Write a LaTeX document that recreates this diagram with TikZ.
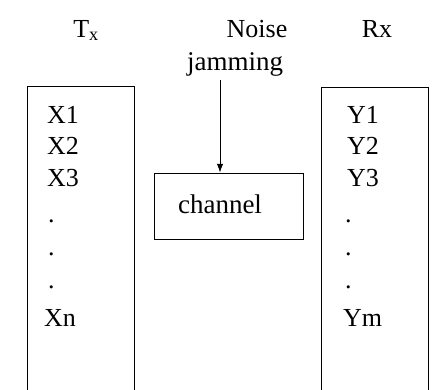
\documentclass[tikz,border=0pt]{standalone}
\usepackage{fontspec}
\setmainfont{Liberation Serif}
\usetikzlibrary{arrows.meta, positioning}
\tikzset{
  col/.style  ={draw, rectangle, minimum width=107pt, minimum height=330pt, inner sep=0pt, line width=1pt},
  chan/.style ={draw, rectangle, minimum width=149pt, minimum height=66pt, inner sep=0pt, line width=1pt},
  sym/.style  ={anchor=west, inner sep=0pt, font=\fontsize{26}{30}\selectfont},
  hdr/.style  ={anchor=base, inner sep=0pt, font=\fontsize{26}{30}\selectfont},
  feed/.style ={-{Latex[length=3mm, width=2.2mm]}, line width=0.8pt},
}
\begin{document}
\begin{tikzpicture}[x=1pt, y=-1pt]
  \useasboundingbox (0,0) rectangle (438,389);
  \clip (0,0) rectangle (438,389);
  % headings
  \node[hdr] (tx)    at (86,37)  {T\textsubscript{x}};
  \node[hdr] (noise) at (257,37) {Noise};
  \node[hdr, font=\fontsize{27}{30}\selectfont] (jam) at (235,70) {jamming};
  \node[hdr] (rx)    at (377,37) {Rx};
  % transmitter and receiver columns
  \node[col] (tbox) at (80.5,251) {};
  \node[col] (rbox) at (375,252)  {};
  \node[sym] (x1) at (47,115) {X1};
  \node[sym] (x2) at (47,146) {X2};
  \node[sym] (x3) at (47,178) {X3};
  \node[sym] (xa) at (48,221) {.};
  \node[sym] (xb) at (48,254) {.};
  \node[sym] (xc) at (48,287) {.};
  \node[sym] (xn) at (44,318) {Xn};
  \node[sym] (y1) at (347,115) {Y1};
  \node[sym] (y2) at (347,146) {Y2};
  \node[sym] (y3) at (347,178) {Y3};
  \node[sym] (ya) at (345,221) {.};
  \node[sym] (yb) at (345,254) {.};
  \node[sym] (yc) at (345,287) {.};
  \node[sym] (ym) at (343,318) {Ym};
  % channel
  \node[chan] (chan) at (228.5,206) {};
  \node[hdr, anchor=center, font=\fontsize{27}{30}\selectfont] (chtxt) at (220,204) {channel};
  \coordinate (jtip) at (220,80);
  \draw[feed] (jtip) -- (jtip |- chan.north);
\end{tikzpicture}
\end{document}
